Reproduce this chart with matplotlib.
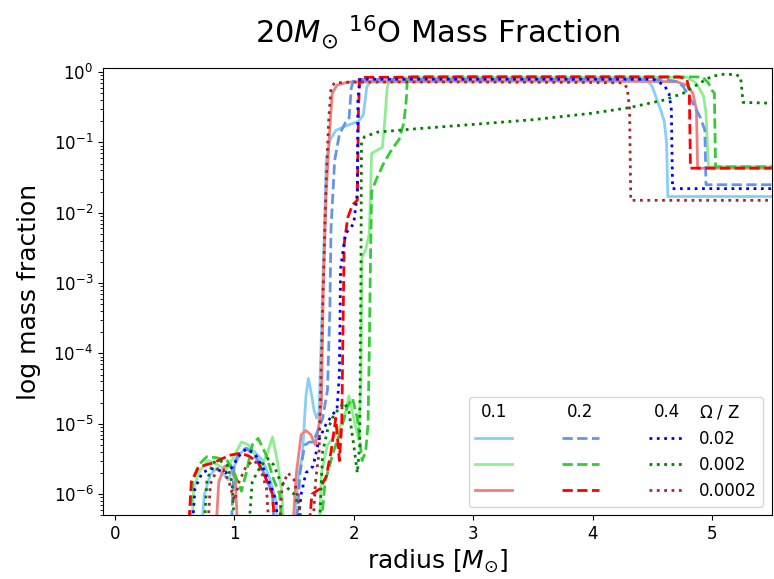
import numpy as np
import matplotlib
matplotlib.use("Agg")
import matplotlib.pyplot as plt
from matplotlib.lines import Line2D

# radius [Msun] and 16O mass fraction (values below the axis set to 1e-7)
# Omega = 0.1
x_01_z02 = [0.70, 0.75, 0.80, 0.85, 0.90, 0.95, 1.00, 1.05, 1.10, 1.17, 1.24, 1.30, 1.35, 1.38, 1.48, 1.53, 1.57, 1.60, 1.62, 1.64,
            1.67, 1.69, 1.71, 1.73, 1.74, 1.77, 1.80, 1.85, 1.93, 2.04, 2.08, 2.11, 2.15, 3.0, 4.0, 4.46, 4.50, 4.54, 4.57, 4.60,
            4.62, 4.63, 5.5]
y_01_z02 = [1e-7, 1e-6, 1.9e-6, 2.3e-6, 2e-6, 1.6e-6, 2.5e-6, 3.8e-6, 4.5e-6, 4e-6, 3e-6, 1.6e-6, 8e-7, 1e-7, 1e-7, 1.5e-6,
            3.6e-6, 2.5e-5, 4.4e-5, 3e-5, 1.5e-5, 1.2e-5, 1.5e-5, 2e-4, 8.5e-4, 5.5e-2, 0.107, 0.148, 0.17, 0.2, 0.245, 0.62,
            0.76, 0.77, 0.77, 0.76, 0.62, 0.40, 0.29, 0.2, 0.1, 0.017, 0.017]

x_01_z002 = [0.63, 0.66, 0.70, 0.78, 0.86, 0.93, 1.00, 1.06, 1.12, 1.18, 1.23, 1.28, 1.32, 1.36, 1.40, 1.43, 1.70, 1.73, 1.78, 1.85,
             1.92, 1.96, 2.00, 2.04, 2.06, 2.07, 2.10, 2.13, 2.15, 2.24, 2.26, 2.28, 2.30, 2.4, 3.0, 4.0, 4.79, 4.87, 4.93, 4.95,
             4.97, 5.5]
y_01_z002 = [1e-7, 1.2e-6, 2e-6, 3e-6, 2.6e-6, 2.2e-6, 3.5e-6, 5.5e-6, 5e-6, 3.5e-6, 2.5e-6, 4e-6, 6.5e-6, 3e-6, 1e-6, 1e-7,
             1e-7, 2e-6, 5e-6, 7e-6, 1.2e-5, 2.5e-5, 1.2e-5, 6e-6, 4e-5, 2.3e-3, 3e-3, 5e-3, 0.07, 0.085, 0.2, 0.6, 0.78, 0.83,
             0.84, 0.84, 0.84, 0.69, 0.45, 0.26, 0.045, 0.045]

x_01_z0002 = [0.83, 0.87, 0.92, 0.97, 1.01, 1.04, 1.47, 1.52, 1.56, 1.60, 1.64, 1.68, 1.71, 1.73, 1.745, 1.77, 1.80, 1.82, 1.86,
              1.95, 3.0, 4.0, 4.70, 4.79, 4.84, 4.87, 4.88, 5.5]
y_01_z0002 = [1e-7, 1.5e-6, 2.5e-6, 2.6e-6, 1.5e-6, 1e-7, 1e-7, 2e-6, 7e-6, 8e-6, 7e-6, 5e-6, 1e-5, 2e-5, 8e-4, 0.02, 0.16,
              0.5, 0.65, 0.72, 0.74, 0.74, 0.73, 0.65, 0.5, 0.29, 0.043, 0.043]

# Omega = 0.2
x_02_z02 = [0.96, 1.00, 1.05, 1.10, 1.15, 1.20, 1.26, 1.32, 1.35, 1.50, 1.55, 1.59, 1.63, 1.66, 1.70, 1.74, 1.78, 1.80, 1.81, 1.84,
            1.88, 1.93, 1.96, 1.98, 2.0, 3.0, 4.0, 4.60, 4.70, 4.76, 4.84, 4.90, 4.94, 4.95, 5.5]
y_02_z02 = [1e-7, 2.8e-6, 4e-6, 4.5e-6, 3.8e-6, 3e-6, 1.8e-6, 1e-6, 1e-7, 1e-7, 2e-6, 5e-6, 5.5e-6, 5.5e-6, 8e-6, 1.2e-5,
            3e-5, 4e-4, 6e-3, 0.055, 0.13, 0.19, 0.21, 0.6, 0.78, 0.79, 0.79, 0.78, 0.74, 0.62, 0.36, 0.23, 0.15, 0.025, 0.025]

x_02_z002 = [0.60, 0.65, 0.70, 0.77, 0.85, 0.94, 1.00, 1.06, 1.10, 1.15, 1.20, 1.27, 1.33, 1.38, 1.42, 1.70, 1.76, 1.83, 1.88,
             1.95, 1.99, 2.03, 2.07, 2.10, 2.12, 2.13, 2.14, 2.15, 2.19, 2.25, 2.32, 2.38, 2.42, 2.44, 2.45, 2.5, 3.0, 4.0,
             4.92, 4.97, 5.00, 5.02, 5.03, 5.5]
y_02_z002 = [1e-7, 1.5e-6, 2.6e-6, 3.4e-6, 3.3e-6, 3e-6, 2e-6, 1.1e-6, 2e-6, 5e-6, 6.2e-6, 3.5e-6, 1.6e-6, 1e-6, 1e-7, 1e-7,
             1.5e-6, 4e-6, 7e-6, 1.8e-5, 2.3e-5, 1.2e-5, 3e-6, 4e-6, 1e-5, 1e-4, 2e-3, 0.02, 0.03, 0.05, 0.08, 0.11, 0.19, 0.4,
             0.85, 0.86, 0.86, 0.86, 0.85, 0.7, 0.55, 0.5, 0.045, 0.045]

x_02_z0002 = [0.60, 0.64, 0.70, 0.76, 0.83, 0.90, 0.97, 1.05, 1.12, 1.20, 1.27, 1.32, 1.36, 1.60, 1.65, 1.72, 1.77, 1.81, 1.85,
              1.88, 1.90, 1.91, 1.92, 1.95, 1.99, 2.03, 2.04, 2.05, 2.1, 3.0, 4.0, 4.73, 4.79, 4.81, 4.82, 5.5]
y_02_z0002 = [1e-7, 1.5e-6, 2.4e-6, 2.6e-6, 2.8e-6, 3.2e-6, 3.6e-6, 3.8e-6, 3.5e-6, 2.8e-6, 1.6e-6, 1e-6, 1e-7, 1e-7, 1e-6,
              1.2e-6, 1.8e-6, 4e-6, 1.2e-5, 3e-6, 1e-5, 2e-4, 3.6e-3, 8.5e-3, 0.013, 0.015, 0.3, 0.82, 0.84, 0.85, 0.85,
              0.85, 0.78, 0.55, 0.043, 0.043]

# Omega = 0.4
x_04_z02 = [0.63, 0.67, 0.73, 0.80, 0.87, 0.93, 0.98, 1.04, 1.10, 1.17, 1.24, 1.30, 1.35, 1.38, 1.50, 1.56, 1.60, 1.66, 1.71, 1.77,
            1.83, 1.86, 1.88, 1.89, 1.93, 2.00, 2.03, 2.035, 2.05, 2.1, 3.0, 4.0, 4.51, 4.60, 4.64, 4.66, 4.67, 5.5]
y_04_z02 = [1e-7, 1.2e-6, 2e-6, 2.3e-6, 2.2e-6, 2e-6, 2.4e-6, 3.5e-6, 4.4e-6, 3.8e-6, 2.4e-6, 1.4e-6, 8e-7, 1e-7, 1e-7, 1e-6,
            2e-6, 2.5e-6, 6e-6, 1e-5, 1.4e-5, 1.6e-5, 5e-5, 1.6e-3, 5e-3, 7e-3, 0.019, 0.4, 0.78, 0.79, 0.79, 0.79, 0.79,
            0.65, 0.5, 0.29, 0.022, 0.022]

x_04_z002 = [0.73, 0.77, 0.82, 0.88, 0.94, 0.98, 1.02, 1.10, 1.15, 1.22, 1.28, 1.33, 1.38, 1.45, 1.50, 1.55, 1.58, 1.70, 1.74, 1.78,
             1.82, 1.87, 1.92, 1.96, 2.00, 2.03, 2.05, 2.06, 2.065, 2.09, 2.2, 2.5, 3.0, 3.5, 4.0, 4.3, 4.6, 4.76, 4.9, 5.0,
             5.1, 5.2, 5.24, 5.26, 5.5]
y_04_z002 = [1e-7, 1.5e-6, 2.8e-6, 3e-6, 2.6e-6, 1.5e-6, 1e-7, 1e-7, 1.5e-6, 2.5e-6, 3.2e-6, 2.6e-6, 1.6e-6, 1.2e-6, 1e-6, 6e-7,
             1e-7, 1e-7, 4e-6, 8e-6, 1.2e-5, 1.6e-5, 2e-5, 1.5e-5, 5e-6, 2e-6, 5e-6, 1e-3, 0.1, 0.12, 0.14, 0.155, 0.18, 0.21,
             0.26, 0.31, 0.4, 0.5, 0.7, 0.87, 0.93, 0.92, 0.85, 0.37, 0.36]

x_04_z0002 = [0.76, 0.80, 0.86, 0.91, 0.96, 1.00, 1.04, 1.10, 1.16, 1.21, 1.27, 1.31, 1.36, 1.40, 1.45, 1.50, 1.54, 1.58, 1.64,
              1.68, 1.71, 1.73, 1.75, 1.77, 1.79, 1.81, 1.84, 2.0, 3.0, 4.0, 4.25, 4.29, 4.31, 4.32, 5.5]
y_04_z0002 = [1e-7, 1.4e-6, 2.3e-6, 2.2e-6, 1.4e-6, 8e-7, 1.5e-6, 2.5e-6, 3e-6, 2.6e-6, 1.2e-6, 1e-7, 1e-7, 1.3e-6, 2e-6,
              1.6e-6, 8e-7, 1e-7, 1e-7, 1.5e-6, 4e-6, 1e-4, 2e-3, 0.03, 0.2, 0.6, 0.7, 0.72, 0.72, 0.71, 0.7, 0.6, 0.3, 0.015,
              0.015]

omegas = ['0.1', '0.2', '0.4']
metallicities = ['0.02', '0.002', '0.0002']
yticks = [1e-6, 1e-5, 1e-4, 1e-3, 1e-2, 1e-1, 1e0]

fig, ax = plt.subplots(figsize=(7.74, 5.79), dpi=100)
fig.subplots_adjust(left=0.133, right=0.997, bottom=0.11, top=0.883)

# solid = Omega 0.1, dashed = 0.2, dotted = 0.4
l1, = ax.plot(x_01_z02, y_01_z02, '-', color='lightskyblue', lw=2)
l2, = ax.plot(x_01_z002, y_01_z002, '-', color='lightgreen', lw=2)
l3, = ax.plot(x_01_z0002, y_01_z0002, '-', color='lightcoral', lw=2)
l4, = ax.plot(x_02_z02, y_02_z02, '--', color='cornflowerblue', lw=2)
l5, = ax.plot(x_02_z002, y_02_z002, '--', color='limegreen', lw=2)
l6, = ax.plot(x_02_z0002, y_02_z0002, '--', color='red', lw=2)
l7, = ax.plot(x_04_z02, y_04_z02, ':', color='blue', lw=2)
l8, = ax.plot(x_04_z002, y_04_z002, ':', color='green', lw=2)
l9, = ax.plot(x_04_z0002, y_04_z0002, ':', color='brown', lw=2)

ax.set_yscale('log')
ax.set_xlim(-0.1, 5.5)
ax.set_ylim(5e-7, 1.15)
ax.set_yticks(yticks)
ax.tick_params(labelsize=12)
ax.set_xlabel(r'radius [$M_{\odot}$]', fontsize=18, labelpad=3)
ax.set_ylabel('log mass fraction', fontsize=18, labelpad=9)
ax.set_title(r'20$M_{\odot}$ $^{16}$O Mass Fraction', fontsize=22, pad=18)

blank = Line2D([], [], color='none')
handles = [blank, l1, l2, l3, blank, l4, l5, l6, blank, l7, l8, l9]
labels = ['', '', '', '', '', '', '', '', r'$\Omega$ / Z'] + metallicities
leg = ax.legend(handles, labels, ncol=3, loc='lower right', fontsize=12,
                handlelength=2.2, handletextpad=0.8, columnspacing=2.2)

# Omega header above each column of line samples
fig.canvas.draw()
r = fig.canvas.get_renderer()
W, H = fig.canvas.get_width_height()
hy = leg.get_texts()[8].get_window_extent(r)
yc = (hy.y0 + hy.y1) / 2
for i, om in zip([1, 5, 9], omegas):
    bb = leg.legend_handles[i].get_window_extent(r)
    fig.text((bb.x0 + bb.x1) / 2 / W, yc / H, om, ha='center', va='center', fontsize=12)

fig.savefig('out.png', dpi=100)
